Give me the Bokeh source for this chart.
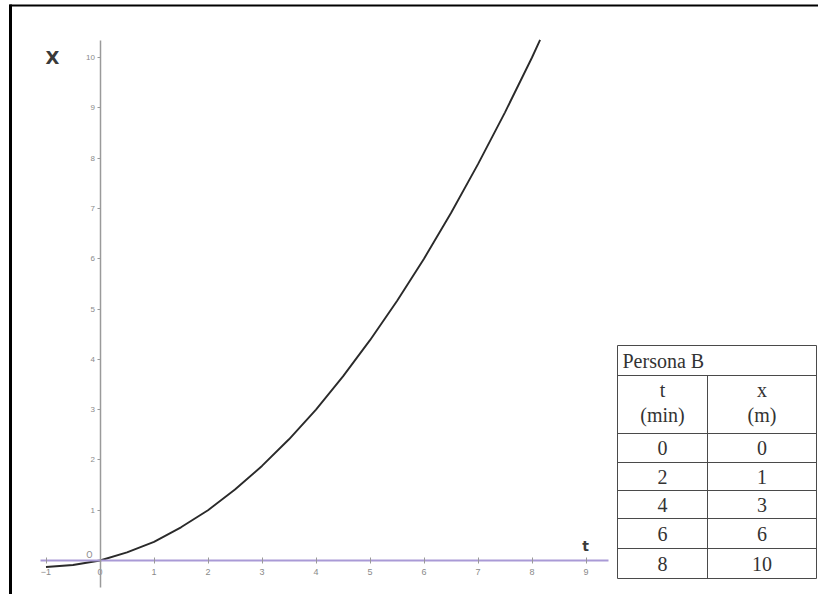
from bokeh.plotting import figure
from bokeh.models import Range1d, LinearAxis, FixedTicker, ColumnDataSource
from bokeh.core.properties import value
from bokeh.embed import file_html
from bokeh.resources import INLINE

# ---- data ----
curve_t = [-1.0, -0.5, 0.0, 0.5, 1.0, 1.5, 2.0, 2.5, 3.0, 3.5, 4.0, 4.5, 5.0, 5.5, 6.0, 6.5, 7.0, 7.5, 8.0, 8.15]
curve_x = [-0.13, -0.09, 0.0, 0.16, 0.37, 0.66, 1.0, 1.41, 1.88, 2.41, 3.0, 3.66, 4.38, 5.16, 6.0, 6.91, 7.88, 8.91, 10.0, 10.35]
t_ticks = [-1, 0, 1, 2, 3, 4, 5, 6, 7, 8, 9]
x_ticks = [1, 2, 3, 4, 5, 6, 7, 8, 9, 10]
table_title = "Persona B"
table_head_t = ["t", "(min)"]
table_head_x = ["x", "(m)"]
table_t = [0, 2, 4, 6, 8]
table_x = [0, 1, 3, 6, 10]

W, H = 818, 594
OFF = 0
# pixel layout (page coords) -> data ranges
PX0, SX = 99.5, 54.0     # t=0 page x, px per unit
PY0, SY = 560.0, 50.3    # x=0 page y, px per unit
t0 = (OFF - PX0) / SX
t1 = (OFF + W - PX0) / SX
y1 = (PY0 - OFF) / SY
y0 = (PY0 - OFF - H) / SY

def dt(px):
    return (px - PX0) / SX

def dy(py):
    return (PY0 - py) / SY

p = figure(width=W, height=H, output_backend="svg", toolbar_location=None,
           x_range=Range1d(t0, t1), y_range=Range1d(y0, y1),
           x_axis_type=None, y_axis_type=None, min_border=0)
p.grid.visible = False
p.outline_line_color = None
p.background_fill_color = "white"
p.border_fill_color = "white"

# axes at the origin
xa = LinearAxis(fixed_location=0, ticker=FixedTicker(ticks=t_ticks), bounds=(dt(40), dt(608)))
xa.axis_line_color = "#a99ad6"
xa.axis_line_width = 2
xa.major_tick_line_color = "#999999"
xa.major_tick_in = 3
xa.major_tick_out = 3
xa.minor_tick_line_color = None
xa.major_label_text_font_size = "9px"
xa.major_label_text_color = "#8a8a8a"
xa.major_label_standoff = 5
p.add_layout(xa, "below")

ya = LinearAxis(fixed_location=0, ticker=FixedTicker(ticks=x_ticks), bounds=(dy(587), dy(40)))
ya.axis_line_color = "#9a9a9a"
ya.axis_line_width = 1.5
ya.major_tick_line_color = "#999999"
ya.major_tick_in = 0
ya.major_tick_out = 3
ya.minor_tick_line_color = None
ya.major_label_text_font_size = "8px"
ya.major_label_text_color = "#8a8a8a"
ya.major_label_standoff = 2
ya.major_label_orientation = "horizontal"
p.add_layout(ya, "left")

# curve
p.line(curve_t, curve_x, line_color="#2a2a2a", line_width=1.9)

# axis names
p.text([dt(52)], [dy(57)], text=["X"], text_font=value("DejaVu Sans"), text_font_size="18px",
       text_font_style="bold", text_color="#3a3a3a", text_align="center", text_baseline="middle")
p.text([dt(585)], [dy(545)], text=["t"], text_font=value("DejaVu Sans"), text_font_size="14px",
       text_font_style="bold", text_color="#3a3a3a", text_align="center", text_baseline="middle")
p.text([dt(89)], [dy(555)], text=["O"], text_font=value("DejaVu Sans"), text_font_size="8px",
       text_color="#8a8a8a", text_align="center", text_baseline="middle")

# frame lines (left, top) like the scan border
p.segment(dt(10), dy(4), dt(10), dy(600), line_color="black", line_width=3)
p.segment(dt(9), dy(5), dt(822), dy(5), line_color="black", line_width=2)

# table
cols = [617, 707, 816]
rows = [345, 375, 433, 462, 490, 518, 548, 578]
tc = "#4a4a4a"
for r in rows:
    p.segment(dt(cols[0]), dy(r), dt(cols[2]), dy(r), line_color=tc, line_width=1)
p.segment(dt(cols[0]), dy(rows[0]), dt(cols[0]), dy(rows[-1]), line_color=tc, line_width=1)
p.segment(dt(cols[2]), dy(rows[0]), dt(cols[2]), dy(rows[-1]), line_color=tc, line_width=1)
p.segment(dt(cols[1]), dy(rows[1]), dt(cols[1]), dy(rows[-1]), line_color=tc, line_width=1)

font = value("Liberation Serif")
fs = "20px"
p.text([dt(cols[0] + 5)], [dy((rows[0] + rows[1]) / 2)], text=[table_title], text_font=font,
       text_font_size=fs, text_color="#333333", text_align="left", text_baseline="middle")
c1 = (cols[0] + cols[1]) / 2
c2 = (cols[1] + cols[2]) / 2
hy = [389, 414]
p.text([dt(c1)] * 2, [dy(v) for v in hy], text=table_head_t, text_font=font, text_font_size=fs,
       text_color="#333333", text_align="center", text_baseline="middle")
p.text([dt(c2)] * 2, [dy(v) for v in hy], text=table_head_x, text_font=font, text_font_size=fs,
       text_color="#333333", text_align="center", text_baseline="middle")
row_centers = [dy((rows[i] + rows[i + 1]) / 2) for i in range(2, 7)]
src = ColumnDataSource(dict(y=row_centers, tl=[str(v) for v in table_t], xl=[str(v) for v in table_x],
                            a=[dt(c1)] * 5, b=[dt(c2)] * 5))
p.text("a", "y", text="tl", source=src, text_font=font, text_font_size=fs, text_color="#333333",
       text_align="center", text_baseline="middle")
p.text("b", "y", text="xl", source=src, text_font=font, text_font_size=fs, text_color="#333333",
       text_align="center", text_baseline="middle")

open("out.html", "w").write(file_html(p, INLINE))
